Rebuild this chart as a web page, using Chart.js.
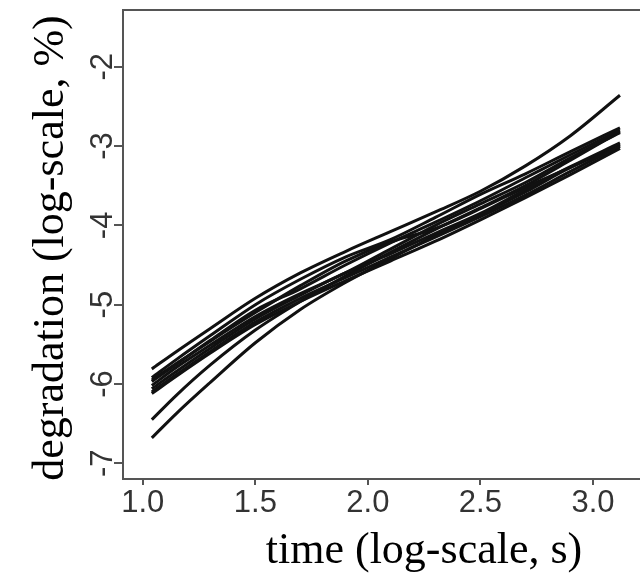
<!DOCTYPE html>
<html>
<head>
<meta charset="utf-8">
<script src="https://cdn.jsdelivr.net/npm/chart.js@4.4.0/dist/chart.umd.min.js"></script>
<style>
  html, body { margin: 0; padding: 0; background: #fff; }
  canvas { display: block; }
</style>
</head>
<body>
<canvas id="deg" width="640" height="576"></canvas>
<script>
// x positions of the curves (log time)
const times = [1.04, 1.15, 1.3, 1.5, 1.7, 1.9, 2.1, 2.3, 2.5, 2.7, 2.9, 3.12];

// degradation curves (log %), one array per unit
const unitA = [-5.81, -5.59, -5.3, -4.92, -4.6, -4.33, -4.08, -3.83, -3.57, -3.25, -2.87, -2.36];
const unitB = [-5.92, -5.69, -5.39, -5.0, -4.68, -4.4, -4.18, -3.9, -3.61, -3.35, -3.07, -2.77];
const unitC = [-5.97, -5.75, -5.45, -5.07, -4.8, -4.5, -4.22, -3.96, -3.69, -3.4, -3.11, -2.8];
const unitD = [-6.02, -5.79, -5.51, -5.15, -4.86, -4.6, -4.3, -4.0, -3.73, -3.46, -3.15, -2.83];
const unitE = [-6.06, -5.84, -5.55, -5.18, -4.88, -4.6, -4.36, -4.1, -3.85, -3.55, -3.26, -2.96];
const unitF = [-6.1, -5.88, -5.59, -5.22, -4.92, -4.66, -4.4, -4.15, -3.89, -3.62, -3.32, -3.0];
const unitG = [-6.12, -5.9, -5.61, -5.25, -4.96, -4.7, -4.45, -4.2, -3.93, -3.65, -3.36, -3.03];
const unitH = [-5.95, -5.74, -5.46, -5.1, -4.76, -4.45, -4.21, -4.04, -3.79, -3.52, -3.27, -2.98];
const unitI = [-6.45, -6.14, -5.76, -5.32, -4.96, -4.64, -4.34, -4.05, -3.78, -3.5, -3.18, -2.82];
const unitJ = [-6.68, -6.37, -5.98, -5.48, -5.06, -4.72, -4.42, -4.13, -3.86, -3.58, -3.27, -3.0];

const xTicks = [1.0, 1.5, 2.0, 2.5, 3.0];
const yTicks = [-7, -6, -5, -4, -3, -2];

const units = [unitA, unitB, unitC, unitD, unitE, unitF, unitG, unitH, unitI, unitJ];

const datasets = units.map(function (u) {
    return {
        data: u.map(function (v, i) { return { x: times[i], y: v }; }),
        borderColor: '#111',
        borderWidth: 3,
        pointRadius: 0,
        fill: false,
        cubicInterpolationMode: 'monotone'
    };
});

// frame top line, rotated y labels and axis titles
const decor = {
    id: 'decor',
    afterDraw(chart) {
        const ctx = chart.ctx;
        const a = chart.chartArea;
        const ys = chart.scales.y;
        ctx.save();
        ctx.strokeStyle = '#555';
        ctx.lineWidth = 2;
        ctx.beginPath();
        ctx.moveTo(a.left, a.top);
        ctx.lineTo(a.right, a.top);
        ctx.stroke();

        ctx.fillStyle = '#333';
        ctx.font = '31px "Liberation Sans", Arial, sans-serif';
        ctx.textAlign = 'center';
        ctx.textBaseline = 'alphabetic';
        yTicks.forEach(function (v) {
            const py = ys.getPixelForValue(v);
            ctx.save();
            ctx.translate(112, py);
            ctx.rotate(-Math.PI / 2);
            ctx.fillText(String(v), 0, 0);
            ctx.restore();
        });

        ctx.fillStyle = '#000';
        ctx.font = '44px "Liberation Serif", "Times New Roman", serif';
        ctx.save();
        ctx.translate(63, 248);
        ctx.rotate(-Math.PI / 2);
        ctx.fillText('degradation (log-scale, %)', 0, 0);
        ctx.restore();
        ctx.fillText('time (log-scale, s)', 424, 563);
        ctx.restore();
    }
};

new Chart(document.getElementById('deg').getContext('2d'), {
    type: 'line',
    data: { datasets: datasets },
    plugins: [decor],
    options: {
        responsive: false,
        animation: false,
        layout: { padding: { top: 10, left: 0, right: 0, bottom: 0 } },
        plugins: { legend: { display: false }, tooltip: { enabled: false } },
        scales: {
            x: {
                type: 'linear',
                min: 0.912,
                max: 3.209,
                afterBuildTicks: function (s) { s.ticks = xTicks.map(function (v) { return { value: v }; }); },
                afterFit: function (s) { s.height = 97; },
                border: { display: true, color: '#555', width: 2 },
                grid: { drawOnChartArea: false, drawTicks: true, tickLength: 6, color: '#555', lineWidth: 2 },
                ticks: {
                    autoSkip: false,
                    maxRotation: 0,
                    padding: 0,
                    color: '#333',
                    font: { family: '"Liberation Sans", Arial, sans-serif', size: 31 },
                    callback: function (v) { return Number(v).toFixed(1); }
                }
            },
            y: {
                type: 'linear',
                min: -7.198,
                max: -1.285,
                afterBuildTicks: function (s) { s.ticks = yTicks.map(function (v) { return { value: v }; }); },
                afterFit: function (s) { s.width = 123; },
                border: { display: true, color: '#555', width: 2 },
                grid: { drawOnChartArea: false, drawTicks: true, tickLength: 9, color: '#555', lineWidth: 2 },
                ticks: { display: false }
            }
        }
    }
});
</script>
</body>
</html>
